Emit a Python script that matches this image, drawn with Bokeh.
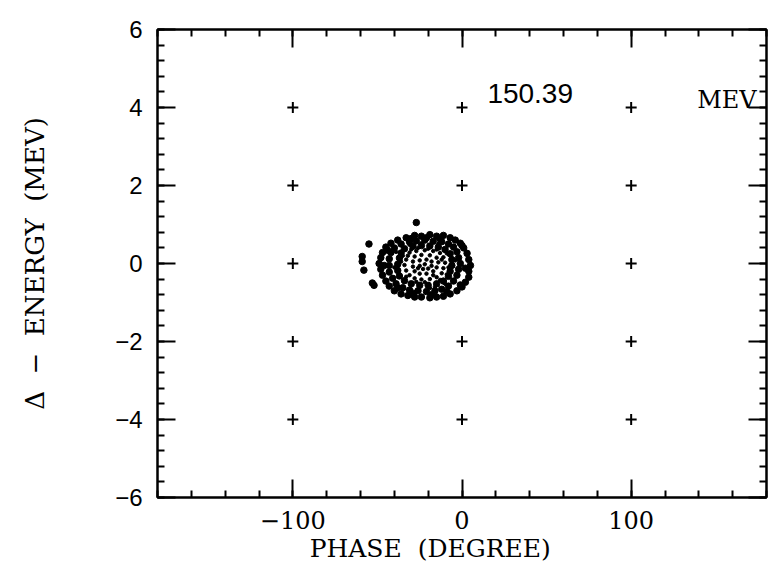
from bokeh.plotting import figure
from bokeh.models import LinearAxis, SingleIntervalTicker, Label, Range1d, CustomJSTickFormatter
from bokeh.embed import file_html
from bokeh.resources import INLINE

# reference crosses (phase in degree, delta energy in MeV)
cross_phase = [-100, 0, 100, -100, 0, 100, -100, 100, -100, 0, 100, -100, 0, 100]
cross_energy = [4, 4, 4, 2, 2, 2, 0, 0, -2, -2, -2, -4, -4, -4]

# outer (bold) particles of the bunch
outer_phase = [-33, -28, -24, -19, -15, -11, -7, -4,
               -1, 1, 3, 4, 5, 4, 4, 2, 0, -3,
               -7, -11, -15, -19, -24, -28, -32, -36, -40,
               -43, -45, -47, -48, -49, -48, -47, -45, -42, -38,
               -55, -59, -59, -58, -53, -52,
               -36, -31, -27, -22, -17, -12, -8, -5, -3, -2, -1, -2, -3, -5,
               -8, -12, -16, -21, -26, -31, -35, -39, -41, -43, -43, -43, -42, -40,
               -34, -29, -24, -19, -14, -10, -7, -6, -6, -7, -8, -11,
               -15, -20, -25, -30, -34, -37, -38, -38, -37, -36, -27,
               -30, -21, -13, 0, 2, -1, -9, -18, -29, -38, -46, -44]
outer_energy = [0.66, 0.72, 0.70, 0.74, 0.70, 0.72, 0.66, 0.60,
                0.52, 0.40, 0.26, 0.10, -0.05, -0.20, -0.35, -0.48, -0.60, -0.70,
                -0.78, -0.84, -0.86, -0.88, -0.86, -0.86, -0.82, -0.78, -0.70,
                -0.58, -0.45, -0.30, -0.15, 0.00, 0.15, 0.28, 0.42, 0.52, 0.60,
                0.50, 0.18, 0.05, -0.17, -0.50, -0.56,
                0.50, 0.55, 0.58, 0.60, 0.57, 0.56, 0.50, 0.42, 0.30, 0.15, 0.00, -0.15, -0.30, -0.45,
                -0.58, -0.66, -0.70, -0.72, -0.70, -0.68, -0.62, -0.52, -0.38, -0.22, -0.05, 0.12, 0.28, 0.40,
                0.38, 0.44, 0.46, 0.45, 0.42, 0.36, 0.25, 0.10, -0.05, -0.20, -0.33, -0.45,
                -0.52, -0.56, -0.56, -0.52, -0.44, -0.32, -0.18, -0.02, 0.14, 0.27, 1.05,
                0.64, 0.66, 0.63, 0.46, -0.12, -0.55, -0.72, -0.80, -0.76, -0.62, -0.05, 0.34]

# inner (fine) particles of the bunch
inner_phase = [-31, -27, -22, -17, -13, -11, -10, -11, -12, -15, -19, -24, -28, -31, -33, -34, -33, -32,
               -28, -24, -19, -15, -14, -15, -17, -21, -25, -28, -29, -29,
               -25, -21, -18, -18, -20, -23, -25, -22,
               -26, -20, -15, -30, -9, -8, -9, -13, -22, -27, -33, -36, -35, -12, -26, -17,
               -4, -3, -10, -14, -40, -39, -31, -19, -24, -16]
inner_energy = [0.28, 0.32, 0.34, 0.32, 0.27, 0.16, 0.02, -0.12, -0.25, -0.35, -0.40, -0.41, -0.38, -0.30, -0.18, -0.04, 0.10, 0.20,
                0.18, 0.22, 0.21, 0.15, 0.03, -0.10, -0.20, -0.26, -0.26, -0.20, -0.08, 0.05,
                0.08, 0.10, 0.05, -0.06, -0.13, -0.14, -0.06, -0.02,
                0.40, 0.38, 0.36, 0.36, 0.26, -0.10, -0.28, -0.42, -0.48, -0.47, -0.34, 0.05, 0.20, 0.10, -0.12, -0.30,
                0.08, -0.25, -0.52, 0.50, -0.10, 0.30, 0.48, -0.63, 0.52, -0.60]

x_ticks_major = 100
y_ticks_major = 2
beam_energy_label = "150.39"
unit_label = "MEV"
NB = "\u00a0"
x_title = "PHASE" + NB * 2 + "(DEGREE)"
y_title = "\u0394" + NB * 2 + "\u2212" + NB * 2 + "ENERGY" + NB * 2 + "(MEV)"

SERIF = "DejaVu Serif"
SANS = "Liberation Sans"

p = figure(width=768, height=568, x_range=Range1d(-180, 180), y_range=Range1d(-6, 6),
           output_backend="svg", toolbar_location=None,
           min_border_left=157, min_border_top=29, min_border_right=2, min_border_bottom=71)
p.grid.visible = False
p.outline_line_color = "black"
p.outline_line_width = 2
p.background_fill_color = "white"
p.border_fill_color = "white"

minus = "\u2212"
xover = {-100: minus + "100", 0: "0", 100: "100"}
yover = {v: (minus + str(-v) if v < 0 else str(v)) for v in [-6, -4, -2, 0, 2, 4, 6]}

def style(ax, ticker, major_len, minor_len):
    ax.ticker = ticker
    ax.axis_line_width = 2
    ax.axis_line_color = "black"
    ax.major_tick_in = major_len
    ax.major_tick_out = 0
    ax.minor_tick_in = minor_len
    ax.minor_tick_out = 0
    ax.major_tick_line_width = 2
    ax.minor_tick_line_width = 2
    ax.major_tick_line_color = "black"
    ax.minor_tick_line_color = "black"

xt = SingleIntervalTicker(interval=x_ticks_major, num_minor_ticks=5)
yt = SingleIntervalTicker(interval=y_ticks_major, num_minor_ticks=5)

xa = p.xaxis[0]
style(xa, xt, 18, 7)
xa.major_label_overrides = xover
xa.major_label_text_font = SERIF
xa.major_label_text_font_size = "24px"
xa.major_label_text_color = "black"
xa.major_label_standoff = 13
# title sits left of the frame centre in the reference: pad with trailing no-break spaces
xa.axis_label = x_title + NB * 8
xa.axis_label_text_font = SERIF
xa.axis_label_text_font_size = "25px"
xa.axis_label_text_font_style = "normal"
xa.axis_label_text_color = "black"
xa.axis_label_standoff = 2

ya = p.yaxis[0]
style(ya, yt, 18, 7)
ya.major_label_overrides = yover
ya.major_label_text_font = SANS
ya.major_label_text_font_size = "24px"
ya.major_label_text_color = "black"
ya.major_label_standoff = 15
ya.axis_label = y_title
ya.axis_label_text_font = SERIF
ya.axis_label_text_font_size = "26px"
ya.axis_label_text_font_style = "normal"
ya.axis_label_text_color = "black"
ya.axis_label_standoff = 62

blank = CustomJSTickFormatter(code="return ''")

top = LinearAxis(formatter=blank)
style(top, SingleIntervalTicker(interval=x_ticks_major, num_minor_ticks=5), 18, 7)
top.major_label_standoff = 0
p.add_layout(top, "above")

right = LinearAxis(formatter=blank)
style(right, SingleIntervalTicker(interval=y_ticks_major, num_minor_ticks=5), 18, 7)
right.major_label_standoff = 0
p.add_layout(right, "right")

p.scatter(cross_phase, cross_energy, marker="cross", size=11, line_width=2, color="black")
p.scatter(outer_phase, outer_energy, marker="circle", size=6.5, color="black")
p.scatter(inner_phase, inner_energy, marker="circle", size=3.5, color="black")

p.add_layout(Label(x=15, y=4.35, text=beam_energy_label, text_align="left",
                   text_baseline="alphabetic", text_font=SANS, text_font_size="28px",
                   text_color="black"))
p.add_layout(Label(x=139, y=4.18, text=unit_label, text_align="left",
                   text_baseline="alphabetic", text_font=SERIF, text_font_size="24px",
                   text_color="black"))

open("out.html", "w").write(file_html(p, INLINE))
